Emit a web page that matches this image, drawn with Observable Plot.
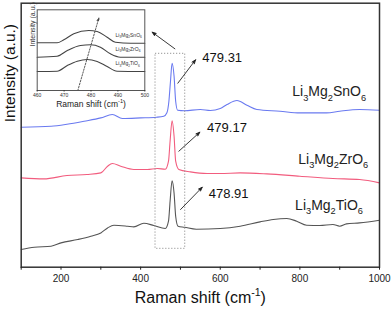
<!DOCTYPE html>
<html><head><meta charset="utf-8">
<script src="https://cdn.jsdelivr.net/npm/d3@7"></script>
<script src="https://cdn.jsdelivr.net/npm/@observablehq/plot@0.6"></script>
<style>
body{margin:0;background:#fff;font-family:"Liberation Sans",Arial,sans-serif}
#wrap{position:relative;width:392px;height:309px}
#inset{position:absolute;left:0;top:0}
</style>
</head><body>
<div id="wrap"><div id="main"></div><div id="inset"></div></div>
<script>
// ---- main spectra (Raman shift in cm-1, intensity in a.u.) ----
const shiftTi = [100,133,175,200,242,275,300,317,333,367,383,408,433,462,470,474,479,484,488,494,510,540,600,650,700,733,767,792,817,850,883,900,917,950,1000];
const intTi   = [17.7,20,21,24.3,27.7,31,34.3,39.3,42,41,40.3,44,41.7,38.7,46,66,86.5,74,51,41,40,38,38.7,41,45.3,47.7,48.7,46,42,41.7,42.7,41,43.3,44.3,47];
const shiftZr = [100,157,215,265,300,317,329,350,383,417,442,462,470,474,479,484,488,496,525,567,600,650,717,800,883,950,1000];
const intZr   = [89.3,88.3,91.7,92.7,94.3,101,103.7,101,97.7,97.7,98.7,98,106,126,146.5,131,106,97.7,95.3,93.7,93.7,94.3,93.3,91,88.7,87.7,84.3];
const shiftSn = [100,175,215,258,300,329,354,400,440,458,466,471,475,479,484,488,493,510,550,575,600,617,642,667,692,750,800,867,900,950,1000];
const intSn   = [140,141,143,146,149.3,152.7,148.7,149.3,150,151,154.5,166,186,204,191,166,157,156.5,157.7,156.7,158.7,162.7,166.7,162,157.7,156,154.3,154.3,156,157.7,157];

// ---- annotations ----
const peakLabels = ["479.31","479.17","478.91"];
const peakLabelX = [555,567,571];
const peakLabelY = [209.7,139,73.4];
const formulas = ["Li_3Mg_2SnO_6","Li_3Mg_2ZrO_6","Li_3Mg_2TiO_6"];
const formulaX = [781,796,788];
const formulaY = [175.4,107.9,62];
const arrowX1 = [493.5,496,500.3,486];
const arrowY1 = [184,116,57.7,218.4];
const arrowX2 = [538,548.7,554.8,429];
const arrowY2 = [207.4,135,80,235];
const boxX = [437.4,512];
const boxY = [18.4,213.4];
const xTicks = d3.range(100,1001,100);

// ---- inset spectra ----
const insetSnX = [460,467.4,469.9,473.6,479.2,482.3,486,489.1,494.7,500];
const insetSnY = [47.7,47.7,50.7,56.7,60,59,53.3,48.3,47.3,47.3];
const insetZrX = [460,467.4,471.2,476.1,479.8,483.5,487.2,490.9,500];
const insetZrY = [33.3,34.3,40,45,45.7,43.3,36.7,33.3,33.3];
const insetTiX = [460,467.4,471.2,474.9,478.6,482.3,486,489.7,500];
const insetTiY = [19,19.3,25,29.3,31,29,24,19.3,19];
const insetLabelX = [489.1,489.1,489.1];
const insetLabelY = [55.5,41.5,26.7];
const insetTicks = [460,470,480,490,500];
const insetArrow = {x1:475.1,y1:0,x2:482.9,y2:72.3};

const colors = {Sn:"#6a7af0", Zr:"#f25c7e", Ti:"#555555"};
const FONT = "Liberation Sans, Arial, sans-serif";
const rows = (xs, ys) => xs.map((x,i) => ({x, y: ys[i]}));

function richify(svg) {
  svg.querySelectorAll('g[aria-label="text"] text').forEach(t => {
    const s = t.textContent;
    if (!/[_^]/.test(s)) return;
    const fs = parseFloat(getComputedStyle(t).fontSize) || 12;
    while (t.firstChild) t.removeChild(t.firstChild);
    const re = /([_^])(\{([^}]*)\}|(.))|([^_^]+)/g;
    let m, cur = 0;
    while ((m = re.exec(s))) {
      const ts = document.createElementNS("http://www.w3.org/2000/svg","tspan");
      let target, content;
      if (m[5] !== undefined) { target = 0; content = m[5]; }
      else {
        target = m[1] === "_" ? fs*0.33 : -fs*0.42;
        content = m[3] !== undefined ? m[3] : m[4];
        ts.setAttribute("font-size", (fs*0.66).toFixed(2));
      }
      ts.setAttribute("dy", (target - cur).toFixed(2));
      cur = target;
      ts.textContent = content;
      t.appendChild(ts);
    }
  });
}
function fillArrows(svg) {
  svg.querySelectorAll('g[aria-label="arrow"] path').forEach(p => {
    const st = p.getAttribute("stroke") || p.parentNode.getAttribute("stroke") || "#222";
    p.setAttribute("fill", st);
  });
}

const main = Plot.plot({
  width: 392, height: 309,
  marginLeft: 20.7, marginRight: 13, marginTop: 2.7, marginBottom: 42.3,
  style: {fontFamily: FONT, color: "#222", background: "white"},
  x: {domain: [100,1000]},
  y: {domain: [0,264], axis: null},
  marks: [
    Plot.line(rows(shiftTi,intTi), {x:"x", y:"y", stroke: colors.Ti, strokeWidth: 1.1, curve: "monotone-x"}),
    Plot.line(rows(shiftZr,intZr), {x:"x", y:"y", stroke: colors.Zr, strokeWidth: 1.1, curve: "monotone-x"}),
    Plot.line(rows(shiftSn,intSn), {x:"x", y:"y", stroke: colors.Sn, strokeWidth: 1.1, curve: "monotone-x"}),
    Plot.rect([0], {x1: () => boxX[0], x2: () => boxX[1], y1: () => boxY[0], y2: () => boxY[1], fill: "none", stroke: "#888", strokeWidth: 0.9, strokeDasharray: "1.2,1.8"}),
    Plot.arrow(arrowX1.map((x,i)=>i), {x1: i=>arrowX1[i], y1: i=>arrowY1[i], x2: i=>arrowX2[i], y2: i=>arrowY2[i], stroke: "#222", strokeWidth: 0.9, headLength: 7, headAngle: 40}),
    Plot.text(peakLabels, {x: (d,i)=>peakLabelX[i], y: (d,i)=>peakLabelY[i], text: d=>d, textAnchor: "start", fontSize: 13, fill: "#111"}),
    Plot.text(formulas, {x: (d,i)=>formulaX[i], y: (d,i)=>formulaY[i], text: d=>d, textAnchor: "start", fontSize: 14, fill: "#222"}),
    Plot.frame({stroke: "#333", strokeWidth: 1.5}),
    Plot.axisX({ticks: xTicks, tickFormat: d => d % 200 === 0 ? String(d) : "", tickSize: 3, tickPadding: 5, fontSize: 10, label: null}),
    Plot.text(["Raman shift (cm^{-1})"], {text: d=>d, frameAnchor: "bottom", dy: 30.6, lineAnchor: "middle", fontSize: 16, fill: "#111"}),
    Plot.text(["Intensity (a.u.)"], {text: d=>d, frameAnchor: "left", rotate: -90, dx: -10.7, dy: -13, lineAnchor: "middle", fontSize: 15.5, fill: "#111"})
  ]
});
document.getElementById("main").appendChild(main);
richify(main); fillArrows(main);

const inset = Plot.plot({
  width: 150, height: 112,
  marginLeft: 36.7, marginRight: 5.7, marginTop: 9.3, marginBottom: 22,
  style: {fontFamily: FONT, color: "#333", background: "transparent"},
  x: {domain: [460,500]},
  y: {domain: [0,80.7], axis: null},
  marks: [
    Plot.line(rows(insetSnX,insetSnY), {x:"x", y:"y", stroke: "#444", strokeWidth: 1.1, curve: "monotone-x"}),
    Plot.line(rows(insetZrX,insetZrY), {x:"x", y:"y", stroke: "#444", strokeWidth: 1.1, curve: "monotone-x"}),
    Plot.line(rows(insetTiX,insetTiY), {x:"x", y:"y", stroke: "#444", strokeWidth: 1.1, curve: "monotone-x"}),
    Plot.arrow([insetArrow], {x1:"x1", y1:"y1", x2:"x2", y2:"y2", stroke: "#444", strokeWidth: 0.9, strokeDasharray: "1.5,1.5", headLength: 5, headAngle: 40}),
    Plot.text(formulas, {x: (d,i)=>insetLabelX[i], y: (d,i)=>insetLabelY[i], text: d=>d, textAnchor: "start", fontSize: 5, fill: "#333"}),
    Plot.frame({stroke: "#555", strokeWidth: 1}),
    Plot.axisX({ticks: insetTicks, tickSize: 1.5, tickPadding: 1, fontSize: 5, label: null}),
    Plot.text(["Raman shift (cm^{-1})"], {text: d=>d, frameAnchor: "bottom", dy: 13.3, lineAnchor: "middle", fontSize: 8.5, fill: "#222"}),
    Plot.text(["Intensity (a.u.)"], {text: d=>d, frameAnchor: "left", rotate: -90, dx: -4.7, dy: -3.6, lineAnchor: "middle", fontSize: 7, fill: "#333"})
  ]
});
document.getElementById("inset").appendChild(inset);
richify(inset); fillArrows(inset);
</script>
</body></html>
